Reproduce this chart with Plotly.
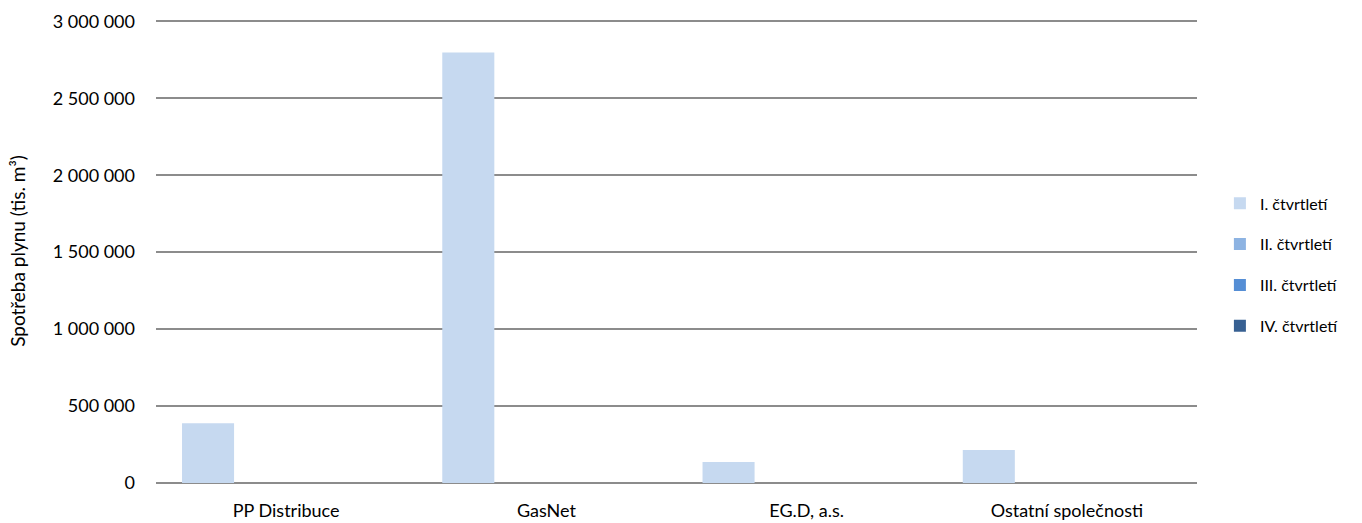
import plotly.graph_objects as go

categories = ["PP Distribuce", "GasNet", "EG.D, a.s.", "Ostatní společnosti"]
series_names = ["I. čtvrtletí", "II. čtvrtletí", "III. čtvrtletí", "IV. čtvrtletí"]
q1 = [388000, 2797000, 136000, 214000]
q2 = [0, 0, 0, 0]
q3 = [0, 0, 0, 0]
q4 = [0, 0, 0, 0]
colors = ["#C6D9F0", "#8DB3E2", "#558ED5", "#376092"]
tick_vals = [0, 500000, 1000000, 1500000, 2000000, 2500000, 3000000]
tick_text = ["0", "500 000", "1 000 000", "1 500 000", "2 000 000", "2 500 000", "3 000 000"]

font = "Lato, 'Open Sans', sans-serif"
fig = go.Figure()
for i, (name, vals) in enumerate(zip(series_names, [q1, q2, q3, q4])):
    fig.add_trace(go.Bar(x=categories, y=vals, name=name, marker_color=colors[i],
                         marker_line_width=0, legendgroup=str(i)))

fig.update_layout(
    width=1362, height=523,
    margin=dict(l=156, r=165, t=19, b=40, autoexpand=False),
    paper_bgcolor="white", plot_bgcolor="white",
    barmode="group", bargap=0.2, bargroupgap=0,
    font=dict(family=font, size=18, color="#000000"),
    legend=dict(x=1.022, y=0.47, yanchor="middle", xanchor="left",
                font=dict(size=16), tracegroupgap=17, itemwidth=30),
    xaxis=dict(showgrid=False, showline=False, ticks="", ticklabelstandoff=15,
               tickfont=dict(size=18), automargin=False),
    yaxis=dict(range=[0, 3015000], tickvals=tick_vals, ticktext=tick_text,
               showgrid=True, gridcolor="#8C8C8C", gridwidth=1.5,
               zeroline=True, zerolinecolor="#8C8C8C", zerolinewidth=1.5,
               showline=False, ticks="", ticklabelstandoff=20,
               tickfont=dict(size=18), automargin=False,
               title=dict(text="Spotřeba plynu (tis. m³)", font=dict(size=19), standoff=22)),
)
fig.write_html("out.html", config={"displayModeBar": False},
               post_script="document.body.style.margin='0';document.body.style.overflow='hidden';")
